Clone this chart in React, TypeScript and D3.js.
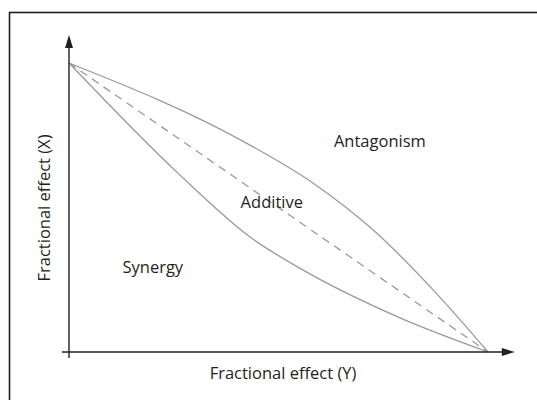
import React from 'react';
import * as d3 from 'd3';

// isobologram curves (x = fractional effect Y, y = fractional effect X)
const antagonismX = [0, 0.432, 0.582, 0.726, 0.869, 1];
const antagonismY = [1, 0.716, 0.585, 0.422, 0.215, 0];

const synergyX = [0, 0.265, 0.432, 0.558, 0.79, 1];
const synergyY = [1, 0.612, 0.398, 0.284, 0.118, 0];

const additiveX = [0, 1];
const additiveY = [1, 0];

const regionLabels = ['Antagonism', 'Additive', 'Synergy'];
const regionX = [0.742, 0.484, 0.2];
const regionY = [0.708, 0.498, 0.273];

const xLabel = 'Fractional effect (Y)';
const yLabel = 'Fractional effect (X)';

// axis extents in data units
const xAxisRange = [-0.017, 1.064];
const yAxisRange = [-0.021, 1.097];

const W = 537;
const H = 400;
const ink = '#231f20';
const curveColor = '#9a9a9a';
const font = '"Open Sans", sans-serif';

type Pt = [number, number];
const zip = (xs: number[], ys: number[]): Pt[] => xs.map((v, i) => [v, ys[i]]);

export default function App() {
  const x = d3.scaleLinear().domain([0, 1]).range([69, 488]);
  const y = d3.scaleLinear().domain([0, 1]).range([352, 63]);

  const line = d3
    .line<Pt>()
    .x(d => x(d[0]))
    .y(d => y(d[1]))
    .curve(d3.curveMonotoneX);

  const straight = d3
    .line<Pt>()
    .x(d => x(d[0]))
    .y(d => y(d[1]));

  const x0 = x(0);
  const y0 = y(0);
  const xEnd = x(xAxisRange[1]);
  const yEnd = y(yAxisRange[1]);

  const arrowLen = 13;
  const arrowHalf = 4;

  return (
    <svg
      width={W}
      height={H}
      style={{ position: 'absolute', left: 0, top: 0, background: '#fff' }}
    >
      {/* frame */}
      <rect x={9.5} y={12.5} width={540} height={400} fill="none" stroke={ink} strokeWidth={1.6} />

      {/* curves */}
      <path d={line(zip(antagonismX, antagonismY)) || ''} fill="none" stroke={curveColor} strokeWidth={1.3} />
      <path d={line(zip(synergyX, synergyY)) || ''} fill="none" stroke={curveColor} strokeWidth={1.3} />
      <path
        d={straight(zip(additiveX, additiveY)) || ''}
        fill="none"
        stroke={curveColor}
        strokeWidth={1.3}
        strokeDasharray="8,6"
      />

      {/* axes */}
      <line x1={x(xAxisRange[0])} x2={xEnd - arrowLen + 1} y1={y0} y2={y0} stroke={ink} strokeWidth={1.4} />
      <line x1={x0} x2={x0} y1={y(yAxisRange[0])} y2={yEnd + arrowLen - 1} stroke={ink} strokeWidth={1.4} />
      <path
        d={`M${xEnd},${y0} L${xEnd - arrowLen},${y0 - arrowHalf} L${xEnd - arrowLen},${y0 + arrowHalf} Z`}
        fill={ink}
      />
      <path
        d={`M${x0},${yEnd} L${x0 - arrowHalf},${yEnd + arrowLen} L${x0 + arrowHalf},${yEnd + arrowLen} Z`}
        fill={ink}
      />

      {/* region labels */}
      {regionLabels.map((t, i) => (
        <text
          key={t}
          x={x(regionX[i])}
          y={y(regionY[i])}
          textAnchor="middle"
          fontFamily={font}
          fontSize={16.5}
          fill={ink}
        >
          {t}
        </text>
      ))}

      {/* axis titles */}
      <text x={283} y={379} textAnchor="middle" fontFamily={font} fontSize={16.5} fill={ink}>
        {xLabel}
      </text>
      <text
        transform={`translate(50,208) rotate(-90)`}
        textAnchor="middle"
        fontFamily={font}
        fontSize={16.5}
        fill={ink}
      >
        {yLabel}
      </text>
    </svg>
  );
}
